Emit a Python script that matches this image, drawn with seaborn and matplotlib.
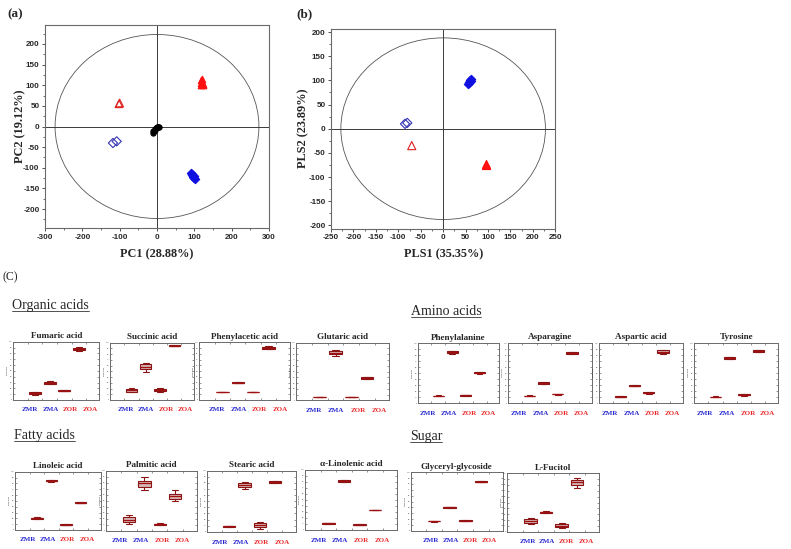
import numpy as np
import pandas as pd
import matplotlib
matplotlib.use("Agg")
import matplotlib.pyplot as plt
import seaborn as sns
from matplotlib.patches import Ellipse
from matplotlib.lines import Line2D
from matplotlib.ticker import MultipleLocator

sns.set_theme(style="white")
plt.rcParams['font.family'] = ['Liberation Serif', 'DejaVu Serif']
plt.rcParams['axes.unicode_minus'] = False

W, H = 791, 549

# ---------------- score plot data ----------------
groups = ["ZMR", "ZMA", "ZOR", "ZOA"]
# PCA scores (a)
pca_zoa_x = [118, 120, 122, 117, 124, 120, 119]
pca_zoa_y = [112, 108, 104, 100, 100, 115, 106]
pca_zor_x = [-102, -100]
pca_zor_y = [55, 57]
pca_zmr_x = [-118, -108]
pca_zmr_y = [-40, -36]
pca_zma_x = [90, 95, 100, 98, 93, 102, 96]
pca_zma_y = [-112, -118, -125, -120, -115, -128, -122]
pca_qc_x = [-10, -8, -5, -2, 2, 5, -10, 0, -6, 3]
pca_qc_y = [-15, -10, -5, -3, 0, 0, -12, -2, -8, -1]
pca_ellipse = (273, 223)
pca_xlabel = "PC1 (28.88%)"
pca_ylabel = "PC2 (19.12%)"

# PLS-DA scores (b)
pls_zma_x = [55, 58, 60, 62, 57, 61]
pls_zma_y = [92, 97, 100, 103, 95, 99]
pls_zmr_x = [-85, -80]
pls_zmr_y = [10, 12]
pls_zor_x = [-70]
pls_zor_y = [-35]
pls_zoa_x = [95, 96]
pls_zoa_y = [-75, -73]
pls_ellipse = (228, 188)
pls_xlabel = "PLS1 (35.35%)"
pls_ylabel = "PLS2 (23.89%)"

# ---------------- box plot data (relative peak area, % of axis) ----------------
# each group: [min, q1, median, q3, max]
fumaric_acid = [[9.1, 9.8, 11.4, 13.0, 13.7], [26.8, 27.7, 29.7, 31.7, 32.6],
                [14.9, 15.2, 16.0, 16.8, 17.1], [84.0, 85.0, 87.4, 89.8, 90.8]]
succinic_acid = [[13.7, 14.7, 16.9, 19.1, 20.1], [49.4, 53.5, 58.1, 62.2, 65.1],
                 [14.3, 15.2, 17.4, 19.6, 20.5], [93.7, 94.0, 94.8, 95.6, 95.9]]
phenylacetic_acid = [[13.0, 13.1, 13.3, 13.5, 13.6], [28.8, 29.2, 30.0, 30.8, 31.2],
                     [13.0, 13.1, 13.3, 13.5, 13.6], [88.3, 89.0, 90.7, 92.4, 93.1]]
glutaric_acid = [[4.9, 5.0, 5.2, 5.4, 5.5], [76.9, 79.8, 82.7, 86.0, 88.0],
                 [4.9, 5.0, 5.2, 5.4, 5.5], [36.9, 37.4, 38.7, 40.0, 40.5]]
phenylalanine = [[12.0, 12.1, 12.3, 12.5, 12.6], [82.5, 83.2, 84.9, 86.6, 87.3],
                 [12.3, 12.45, 12.8, 13.15, 13.3], [49.1, 49.6, 50.8, 52.0, 52.5]]
asparagine = [[12.0, 12.1, 12.3, 12.5, 12.6], [31.3, 31.8, 33.0, 34.2, 34.7],
              [14.1, 14.2, 14.5, 14.8, 14.9], [81.5, 82.0, 83.2, 84.4, 84.9]]
aspartic_acid = [[10.0, 10.2, 10.6, 11.0, 11.2], [27.8, 28.2, 29.0, 29.8, 30.2],
                 [15.6, 16.0, 16.8, 17.6, 18.0], [82.1, 83.1, 85.5, 87.9, 88.9]]
tyrosine = [[10.3, 10.4, 10.6, 10.8, 10.9], [72.6, 73.3, 74.9, 76.5, 77.2],
            [12.3, 12.6, 13.4, 14.2, 14.5], [84.9, 85.4, 86.6, 87.8, 88.3]]
linoleic_acid = [[18.5, 19.0, 20.2, 21.4, 21.9], [83.1, 83.6, 84.8, 86.0, 86.5],
                 [7.9, 8.2, 9.0, 9.8, 10.1], [45.5, 45.8, 46.6, 47.4, 47.7]]
palmitic_acid = [[11.2, 14.6, 18.5, 22.5, 26.4], [68.5, 73.0, 78.7, 83.1, 88.8],
                 [9.0, 9.5, 10.7, 11.9, 12.4], [48.9, 52.8, 57.3, 61.8, 67.4]]
stearic_acid = [[7.3, 7.7, 8.7, 9.7, 10.1], [70.2, 73.0, 76.4, 79.8, 82.0],
                [5.1, 7.9, 10.7, 13.5, 15.7], [79.8, 80.3, 81.5, 82.7, 83.2]]
a_linolenic_acid = [[10.1, 10.3, 10.9, 11.5, 11.7], [80.0, 80.5, 81.7, 82.9, 83.4],
                    [7.8, 8.1, 8.9, 9.7, 10.0], [32.8, 33.0, 33.3, 33.6, 33.8]]
glyceryl_glycoside = [[15.7, 15.8, 16.0, 16.2, 16.3], [39.6, 39.7, 40.0, 40.3, 40.4],
                      [16.4, 16.6, 17.1, 17.6, 17.8], [82.9, 83.2, 84.0, 84.8, 85.1]]
l_fucitol = [[13.7, 15.4, 18.3, 21.1, 23.4], [31.4, 31.9, 33.1, 34.3, 34.8],
             [6.3, 8.0, 10.3, 12.6, 14.3], [75.4, 79.4, 84.6, 88.0, 92.6]]

compound_titles = ["Fumaric acid", "Succinic acid", "Phenylacetic acid", "Glutaric acid",
                   "Phenylalanine", "Asparagine", "Aspartic acid", "Tyrosine",
                   "Linoleic acid", "Palmitic acid", "Stearic acid", "\u03b1-Linolenic acid",
                   "Glyceryl-glycoside", "L-Fucitol"]
compound_values = [fumaric_acid, succinic_acid, phenylacetic_acid, glutaric_acid,
                   phenylalanine, asparagine, aspartic_acid, tyrosine,
                   linoleic_acid, palmitic_acid, stearic_acid, a_linolenic_acid,
                   glyceryl_glycoside, l_fucitol]
section_titles = ["Organic acids", "Amino acids", "Fatty acids", "Sugar"]

# ---------------- layout (pixel boxes: left, top, right, bottom) ----------------
def fig_rect(l, t, r, b):
    return [l / W, 1 - b / H, (r - l) / W, (b - t) / H]

box_rects = [(13.3, 341.7, 99.3, 400), (110, 342.7, 194.3, 400), (199.3, 342.3, 290, 400),
             (296, 342.7, 389.3, 400.3),
             (417.7, 343.3, 499, 403), (508.3, 343, 591.7, 403), (599.3, 343, 682.7, 403),
             (694, 343, 778.3, 403),
             (15, 471.7, 100.7, 530), (106, 470.7, 196.7, 530.7), (206.7, 470.7, 296, 531.7),
             (305, 470, 396.7, 530),
             (410.7, 472.3, 502.7, 530.7), (507.3, 473.3, 599, 531.7)]
label_fracs = [[0.19, 0.43, 0.665, 0.89]] * 4 + [[0.13, 0.385, 0.64, 0.87]] * 4 + \
              [[0.15, 0.38, 0.615, 0.84]] * 4 + [[0.22, 0.43, 0.645, 0.855]] * 2

BLUE = "#2a2ad0"
RED = "#e82a2a"
label_colors = [BLUE, BLUE, RED, RED]

fig = plt.figure(figsize=(W / 100, H / 100), dpi=100)
fig.patch.set_facecolor("white")


def style_score_axes(ax, xlim, ylim, xmaj, ymaj):
    ax.set_xlim(*xlim)
    ax.set_ylim(*ylim)
    ax.xaxis.set_major_locator(MultipleLocator(xmaj))
    ax.xaxis.set_minor_locator(MultipleLocator(xmaj / 2))
    ax.yaxis.set_major_locator(MultipleLocator(ymaj))
    ax.yaxis.set_minor_locator(MultipleLocator(ymaj / 2))
    ax.tick_params(axis="both", which="major", direction="out", length=2.5, width=0.6,
                   color="#333333", labelsize=5.8, pad=1.5, bottom=True, left=True)
    ax.tick_params(axis="both", which="minor", direction="out", length=1.5, width=0.5,
                   color="#333333", bottom=True, left=True)
    for lab in ax.get_xticklabels() + ax.get_yticklabels():
        lab.set_fontfamily("Liberation Sans")
        lab.set_fontweight("bold")
    for s in ax.spines.values():
        s.set_color("#6a6a6a")
        s.set_linewidth(0.8)
    ax.axhline(0, color="#3a3a3a", lw=0.7, zorder=1)
    ax.axvline(0, color="#3a3a3a", lw=0.7, zorder=1)
    ax.grid(False)


def score_panel(ax, sets, ell, xlim, ylim, xmaj, ymaj, xlabel, ylabel, ylab_x):
    ax.add_patch(Ellipse((0, 0), 2 * ell[0], 2 * ell[1], fill=False,
                         edgecolor="#555555", lw=0.6, zorder=1))
    for xs, ys, marker, fc, ec, s in sets:
        sns.scatterplot(x=xs, y=ys, ax=ax, marker=marker, s=s, facecolor=fc,
                        edgecolor=ec, linewidth=0.8, zorder=3, legend=False)
    style_score_axes(ax, xlim, ylim, xmaj, ymaj)
    ax.set_xlabel(xlabel, fontsize=8.8, fontweight="bold", family="Liberation Serif")
    ax.set_ylabel(ylabel, fontsize=8.8, fontweight="bold", family="Liberation Serif")
    ax.xaxis.set_label_coords(0.5, -0.1)
    ax.yaxis.set_label_coords(ylab_x, 0.5)


ax_a = fig.add_axes(fig_rect(45, 25, 269, 228))
score_panel(ax_a,
            [(pca_qc_x, pca_qc_y, "o", "black", "black", 14),
             (pca_zoa_x, pca_zoa_y, "^", "#ff1010", "#ff1010", 22),
             (pca_zor_x, pca_zor_y, "^", "none", "#e02020", 30),
             (pca_zmr_x, pca_zmr_y, "D", "none", "#3535b5", 22),
             (pca_zma_x, pca_zma_y, "D", "#1010e0", "#1010e0", 18)],
            pca_ellipse, (-300, 300), (-246, 246), 100, 50, pca_xlabel, pca_ylabel, -0.085)

ax_b = fig.add_axes(fig_rect(331, 28.7, 555.3, 228.7))
score_panel(ax_b,
            [(pls_zma_x, pls_zma_y, "D", "#1010e0", "#1010e0", 18),
             (pls_zmr_x, pls_zmr_y, "D", "none", "#3535b5", 22),
             (pls_zor_x, pls_zor_y, "^", "none", "#e02020", 34),
             (pls_zoa_x, pls_zoa_y, "^", "#ff1010", "#ff1010", 34)],
            pls_ellipse, (-250, 250), (-207, 207), 50, 50, pls_xlabel, pls_ylabel, -0.095)

fig.text(7 / W, 1 - 14 / H, "(a)", fontsize=9.5, fontweight="bold", va="center", ha="left")
fig.text(296 / W, 1 - 14 / H, "(b)", fontsize=9.5, fontweight="bold", va="center", ha="left")
fig.text(2.5 / W, 1 - 277 / H, "(C)", fontsize=8.5, va="center", ha="left")

# ---------------- box plots ----------------
for title, vals, rect, fr in zip(compound_titles, compound_values, box_rects, label_fracs):
    ax = fig.add_axes(fig_rect(*rect))
    df = pd.DataFrame({"group": np.repeat(groups, [len(v) for v in vals]),
                       "value": np.concatenate(vals)})
    sns.boxplot(data=df, x="group", y="value", order=groups, ax=ax, width=0.8,
                whis=(0, 100), color="#dcb0b0", linecolor="#8b1515", linewidth=0.8,
                fliersize=0, medianprops={"color": "#a01010", "linewidth": 0.9})
    ax.set_xlim(-1.5, 4.4)
    ax.set_ylim(0, 100)
    ax.set_xticks([-0.5, 0.5, 1.5, 2.5, 3.5])
    ax.set_xticklabels([])
    ax.yaxis.set_major_locator(MultipleLocator(10))
    ax.tick_params(axis="both", direction="in", length=1.2, width=0.4, color="#444444",
                   labelsize=1.6, pad=0.6, top=True, right=True, bottom=True, left=True)
    ax.set_xlabel("")
    ax.set_ylabel("Peak area", fontsize=1.6, labelpad=0.5)
    for s in ax.spines.values():
        s.set_color("#6a6a6a")
        s.set_linewidth(0.7)
    ax.grid(False)
    ax.text(0.5, 1.03, title, transform=ax.transAxes, ha="center", va="bottom",
            fontsize=6.6, fontweight="bold")
    for f, g, c in zip(fr, groups, label_colors):
        ax.text(f, -0.17, g, transform=ax.transAxes, ha="center", va="center",
                fontsize=5.0, fontweight="bold", color=c)

# ---------------- section headings with underline ----------------
heading_pos = [(12, 309), (410.7, 315), (14, 439), (410, 440)]
heads = []
for txt, (x, y) in zip(section_titles, heading_pos):
    heads.append(fig.text(x / W, 1 - y / H, txt, fontsize=10, ha="left", va="baseline"))

fig.canvas.draw()
renderer = fig.canvas.get_renderer()
for t, (x, y) in zip(heads, heading_pos):
    bb = t.get_window_extent(renderer)
    x0, x1 = bb.x0 / W, bb.x1 / W
    yy = 1 - (y + 2.0) / H
    fig.add_artist(Line2D([x0, x1], [yy, yy], transform=fig.transFigure,
                          color="#333333", lw=0.6))

fig.savefig("out.png", dpi=100, facecolor="white")
